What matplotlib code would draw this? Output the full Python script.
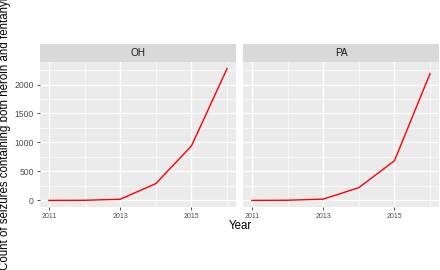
import numpy as np
import matplotlib.pyplot as plt

plt.rcParams['font.family'] = ['Liberation Sans', 'DejaVu Sans']

# data
years = [2011, 2012, 2013, 2014, 2015, 2016]
states = ['OH', 'PA']
oh_counts = [0, 2, 20, 290, 940, 2275]
pa_counts = [0, 3, 22, 220, 685, 2190]
series = [oh_counts, pa_counts]

W, H = 440, 270
fig = plt.figure(figsize=(W / 100, H / 100), dpi=100)

def box(l, t, r, b):
    return [l / W, 1 - b / H, (r - l) / W, (b - t) / H]

panels = [(40, 236), (243, 439)]
ymax = max(max(s) for s in series)
ylo, yhi = -0.05 * ymax, ymax * 1.05

for i, (st, vals) in enumerate(zip(states, series)):
    l, r = panels[i]
    ax = fig.add_axes(box(l, 62, r, 207))
    ax.set_facecolor('#EBEBEB')
    ax.set_xlim(2011 - 0.25, 2016 + 0.25)
    ax.set_ylim(ylo, yhi)
    ax.set_xticks([2011, 2013, 2015])
    ax.set_xticks([2012, 2014, 2016], minor=True)
    ax.set_yticks([0, 500, 1000, 1500, 2000])
    ax.set_yticks([250, 750, 1250, 1750, 2250], minor=True)
    ax.grid(True, which='major', color='white', lw=1.0)
    ax.grid(True, which='minor', color='white', lw=0.5)
    ax.set_axisbelow(True)
    for s in ax.spines.values():
        s.set_visible(False)
    ax.tick_params(which='minor', length=0)
    ax.tick_params(which='major', length=2.5, color='#333333', width=0.6,
                   labelcolor='#4D4D4D', pad=2)
    ax.tick_params(axis='x', labelsize=5)
    ax.tick_params(axis='y', labelsize=6.2)
    if i > 0:
        ax.tick_params(axis='y', left=False, labelleft=False)
    ax.plot(years, vals, color='red', lw=1.0)

    sx = fig.add_axes(box(l, 44, r, 62))
    sx.set_facecolor('#D9D9D9')
    sx.set_xticks([])
    sx.set_yticks([])
    for s in sx.spines.values():
        s.set_visible(False)
    sx.text(0.5, 0.5, st, ha='center', va='center', fontsize=7.2,
            color='#1A1A1A', transform=sx.transAxes)

fig.text(240 / W, 1 - 226 / H, 'Year', ha='center', va='center', fontsize=8.3)
fig.text(5.5 / W, 1 - 134 / H, 'Count of seizures containing both heroin and fentanyl',
         rotation=90, ha='center', va='center', fontsize=8.3)

fig.savefig('out.png', dpi=100, facecolor='white')
